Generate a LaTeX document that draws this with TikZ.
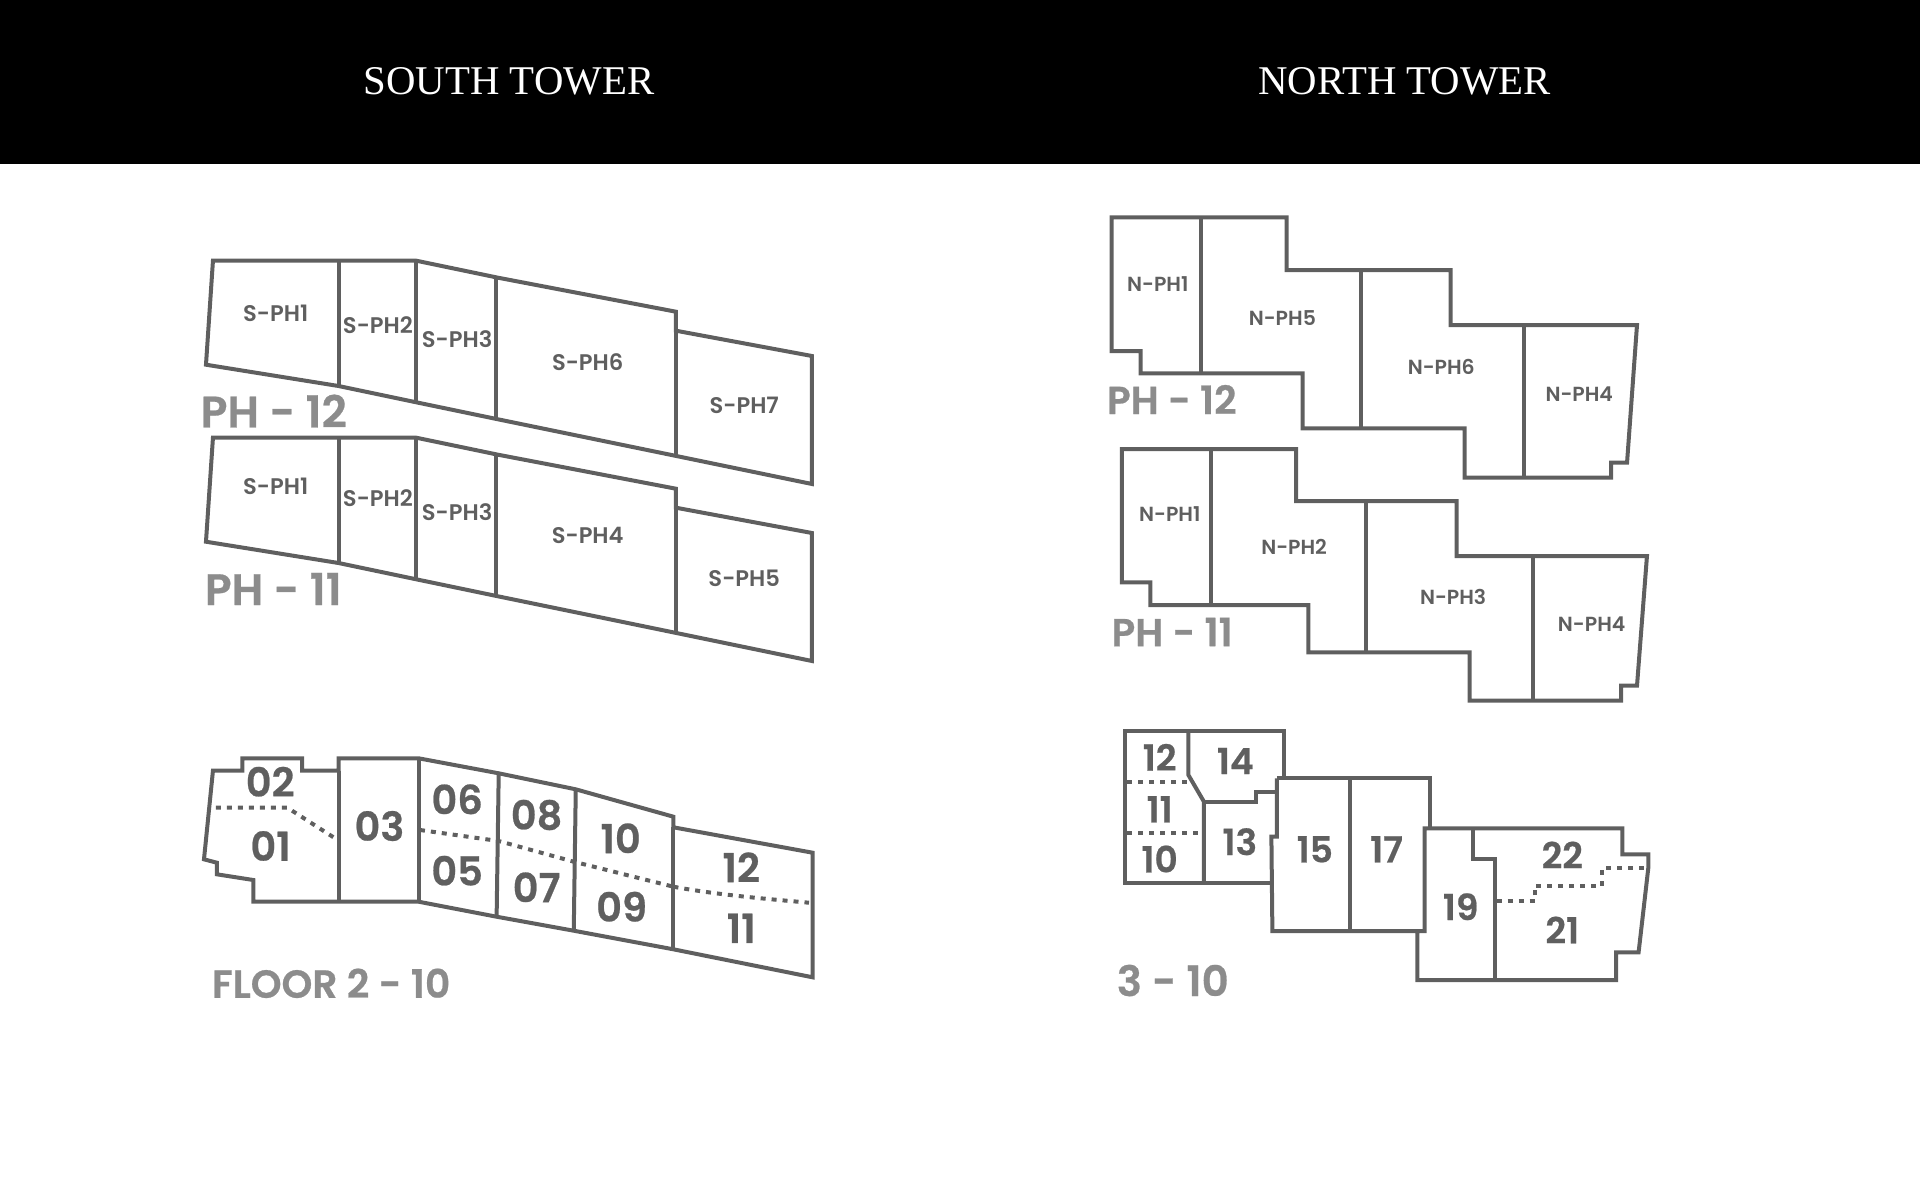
\documentclass[tikz,border=0pt]{standalone}
\usepackage{fontspec}
\setmainfont{Poppins}[UprightFont=* SemiBold,BoldFont=* SemiBold,BoldFeatures={FakeBold=0.6}]
\newfontfamily\titlefont{Liberation Serif}
\definecolor{plan}{HTML}{5F5F5F}
\definecolor{cap}{HTML}{8C8C8C}
\tikzset{
  wall/.style={draw=plan,line width=2pt,line join=miter},
  dots/.style={draw=plan,line width=2pt,dash pattern=on 2.5pt off 3pt},
  unit/.style={text=plan,font=\fontsize{11.3}{12}\selectfont,inner sep=0pt},
  unitn/.style={text=plan,font=\fontsize{10.2}{12}\selectfont,inner sep=0pt},
  num/.style={text=plan,font=\bfseries\fontsize{20}{22}\selectfont,inner sep=0pt},
  numsm/.style={text=plan,font=\bfseries\fontsize{18}{20}\selectfont,inner sep=0pt},
  caption/.style={text=cap,font=\bfseries\fontsize{22}{24}\selectfont,inner sep=0pt},
  captionsm/.style={text=cap,font=\bfseries\fontsize{19.5}{22}\selectfont,inner sep=0pt},
  captionfl/.style={text=cap,font=\bfseries\fontsize{19.6}{22}\selectfont,inner sep=0pt},
  captionth/.style={text=cap,font=\bfseries\fontsize{21}{22}\selectfont,inner sep=0pt},
  headline/.style={text=white,font=\titlefont\fontsize{20.4}{22}\selectfont,inner sep=0pt},
  southside/.style={shift={(200,0)},xscale=0.9967,shift={(-200,0)}},
  northside/.style={shift={(1110,0)},xscale=0.9962,shift={(-1110,0)}}
}
\begin{document}
\begin{tikzpicture}[x=0.5pt,y=-0.5pt]
\useasboundingbox (0,0) rectangle (1920,1200);
\fill[black] (0,0) rectangle (1920,164);
\node[headline] (st) at (509,81) {SOUTH TOWER};
\node[headline] (nt) at (1404.7,81) {NORTH TOWER};
\begin{scope}[southside]
% South PH-12 and PH-11
\foreach \d/\nm in {0/a,177/b}{
\begin{scope}[yshift=-\d*0.5pt]
\draw[wall] (213,260.7)--(417,260.7)--(499,277.7)--(677.5,311.7)--(677.5,330.7)--(814,356)--(814,484)--(678,456)--(499,419.3)--(417,402.3)--(339,386)--(206,364.7)--cycle;
\draw[wall] (339,260.7)--(339,386);
\draw[wall] (417,260.7)--(417,402.3);
\draw[wall] (497,277.7)--(497,419.3);
\draw[wall] (677.5,330.7)--(677.5,456);
\end{scope}}
\node[unit] (s1) at (276,313) {S-PH1};
\node[unit] (s2) at (378.5,325) {S-PH2};
\node[unit] (s3) at (458,339) {S-PH3};
\node[unit] (s6) at (589,362) {S-PH6};
\node[unit] (s7) at (746,405.7) {S-PH7};
\node[unit] (t1) at (276,486) {S-PH1};
\node[unit] (t2) at (378.5,498) {S-PH2};
\node[unit] (t3) at (458,512) {S-PH3};
\node[unit] (t4) at (589,535) {S-PH4};
\node[unit] (t5) at (746,578.7) {S-PH5};
\node[caption] (c1) at (274,411) {PH - 12};
\node[caption] (c2) at (273.5,589) {PH - 11};
% South floors
\draw[wall] (213,770.7)--(242.5,770.7)--(242.5,758.3)--(302.5,758.3)--(302.5,770.7)--(339,770.7)--(339,758.3)--(419.4,758.3)--(499.7,773.3)--(577,789.3)--(675,816.7)--(675,827.3)--(814.7,852.7)--(814.7,977.3)--(675,949.3)--(575,930.7)--(497.6,916.7)--(419.4,901.7)--(253.5,901.7)--(253.5,880)--(217,874.3)--(217,862.7)--(204,859.3)--cycle;
\draw[wall] (339,770.7)--(339,901.7);
\draw[wall] (419.4,758.3)--(419.4,901.7);
\draw[wall] (499.7,773.3)--(497.6,916.7);
\draw[wall] (577,789.3)--(575,930.7);
\draw[wall] (675,827.3)--(675,949.3);
\draw[dots] (216,807.7)--(287.7,807.7)--(334,837.3);
\draw[dots] (420.7,830)--(499.7,841)--(575,861.7)--(675,886.7);
\draw[dots] (675,886.7) .. controls (720,895) and (770,899) .. (811,902.7);
\node[num] (n02) at (270.4,781.7) {02};
\node[num] (n01) at (270.8,846) {01};
\node[num] (n03) at (380,826) {03};
\node[num] (n06) at (458,799.3) {06};
\node[num] (n05) at (458,870.7) {05};
\node[num] (n08) at (537.7,815) {08};
\node[num] (n07) at (537.7,887.3) {07};
\node[num] (n10) at (622,838.3) {10};
\node[num] (n09) at (623,906.7) {09};
\node[num] (n12) at (743,867.3) {12};
\node[num] (n11) at (743,928.3) {11};
\node[captionfl] (c3) at (331.6,983.3) {FLOOR 2 - 10};
\end{scope}
\begin{scope}[northside]
% North PH-12
\draw[wall] (1111.5,217.3)--(1287.4,217.3)--(1287.4,270)--(1451.8,270)--(1451.8,325)--(1639,325)--(1629,462.7)--(1613,462.7)--(1613,477.7)--(1466,477.7)--(1466,428.3)--(1303.4,428.3)--(1303.4,373.3)--(1140.8,373.3)--(1140.8,351)--(1111.5,351)--cycle;
\draw[wall] (1201,217.3)--(1201,373.3);
\draw[wall] (1362,270)--(1362,428.3);
\draw[wall] (1526,325)--(1526,477.7);
\node[unitn] (u1) at (1158,284.3) {N-PH1};
\node[unitn] (u5) at (1283,317.7) {N-PH5};
\node[unitn] (u6) at (1442.5,366.7) {N-PH6};
\node[unitn] (u4) at (1581,394.3) {N-PH4};
\node[captionsm] (c4) at (1172,399.5) {PH - 12};
% North PH-11
\draw[wall] (1122,449)--(1296.7,449)--(1296.7,501)--(1458,501)--(1458,556)--(1649,556)--(1639,685.7)--(1623,685.7)--(1623,700.7)--(1471,700.7)--(1471,652.3)--(1309,652.3)--(1309,605)--(1150.5,605)--(1150.5,582.3)--(1122,582.3)--cycle;
\draw[wall] (1211.3,449)--(1211.3,605);
\draw[wall] (1367,501)--(1367,652.3);
\draw[wall] (1535,556)--(1535,700.7);
\node[unitn] (v1) at (1170,514.3) {N-PH1};
\node[unitn] (v2) at (1294.8,546.7) {N-PH2};
\node[unitn] (v3) at (1454.4,596.7) {N-PH3};
\node[unitn] (v4) at (1593.5,624) {N-PH4};
\node[captionsm] (c5) at (1172.4,632) {PH - 11};
% North floors
\draw[wall] (1272,883.3)--(1125.3,883.3)--(1125.3,730.7)--(1285,730.7)--(1285,778.3);
\draw[wall] (1188.7,730.7)--(1188.7,775)--(1204.3,801.7)--(1204.3,883.3);
\draw[wall] (1204.3,801.7)--(1256.2,801.7)--(1256.2,791.7)--(1277.4,791.7);
\draw[wall] (1277.4,778.3)--(1431.4,778.3)--(1431.4,828.3);
\draw[wall] (1277.4,778.3)--(1277.4,836.7)--(1272,836.7)--(1273,931)--(1425.8,931)--(1425.8,828.3)--(1624.3,828.3)--(1624.3,854.3)--(1650.3,854.3)--(1650.3,868.3)--(1640.6,952.3)--(1618,952.3)--(1618,980)--(1418.4,980)--(1418.4,931);
\draw[wall] (1350.9,778.3)--(1350.9,931);
\draw[wall] (1474,828.3)--(1474,859.3)--(1496.3,859.3)--(1496.3,980);
\draw[dots] (1127.4,782.3)--(1191,782.3);
\draw[dots] (1127.4,832.7)--(1203,832.7);
\draw[dots] (1498,901)--(1536.4,901)--(1536.4,885.7)--(1604,885.7)--(1604,867.7)--(1648.4,867.7);
\node[numsm] (m12) at (1159.8,757.3) {12};
\node[numsm] (m11) at (1159.8,809.3) {11};
\node[numsm] (m10) at (1159.8,859) {10};
\node[numsm] (m14) at (1235.8,761) {14};
\node[numsm] (m13) at (1240.3,841.7) {13};
\node[numsm] (m15) at (1315.6,849.3) {15};
\node[numsm] (m17) at (1387.6,849.3) {17};
\node[numsm] (m19) at (1462,906.7) {19};
\node[numsm] (m22) at (1564,855) {22};
\node[numsm] (m21) at (1564,930) {21};
\node[captionth] (c6) at (1173,980.5) {3 - 10};
\end{scope}
\end{tikzpicture}
\end{document}
